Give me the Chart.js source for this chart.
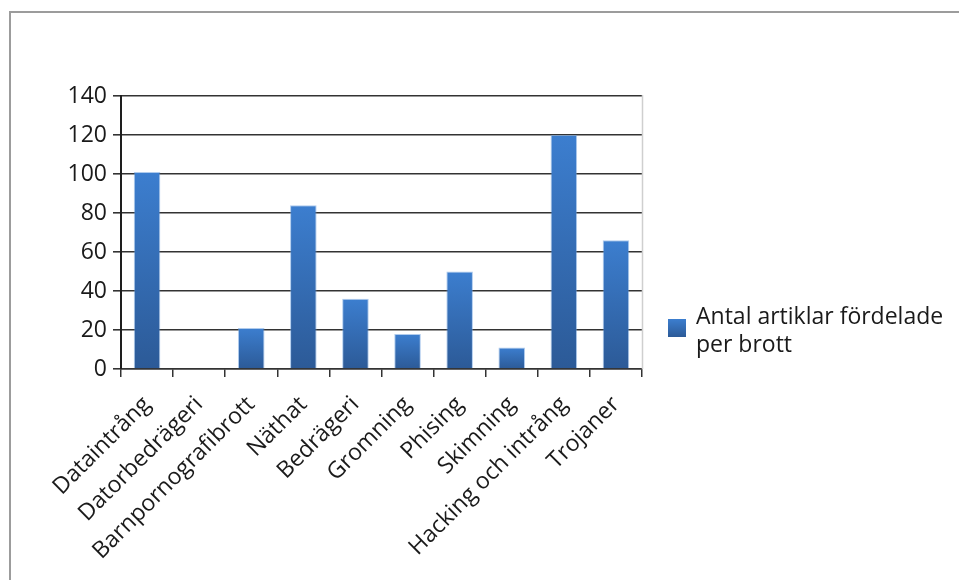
<!DOCTYPE html>
<html>
<head>
<meta charset="utf-8">
<script src="https://cdn.jsdelivr.net/npm/chart.js@4/dist/chart.umd.min.js"></script>
<style>
  html, body { margin: 0; padding: 0; background: #ffffff; }
  #wrap { position: relative; width: 959px; height: 580px; overflow: hidden; }
  #frame { position: absolute; left: 9px; top: 11px; width: 2000px; height: 2000px;
           border-top: 2px solid #9c9c9c; border-left: 2px solid #9c9c9c; pointer-events: none; }
  canvas { position: absolute; left: 0; top: 0; }
</style>
</head>
<body>
<div id="wrap">
  <canvas id="chart" width="959" height="580"></canvas>
  <div id="frame"></div>
</div>
<script>
// Categories (crime types) and number of articles per category
const categories = [
  'Dataintrång', 'Datorbedrägeri', 'Barnpornografibrott', 'Näthat', 'Bedrägeri',
  'Gromning', 'Phising', 'Skimning', 'Hacking och intrång', 'Trojaner'
];
const articleCounts = [101, 0, 21, 84, 36, 18, 50, 11, 120, 66];
const seriesName = 'Antal artiklar fördelade per brott';
const seriesNameLines = ['Antal artiklar fördelade', 'per brott'];

// Value axis ticks
const yMin = 0;
const yMax = 140;
const yStep = 20;

const FONT = "'Open Sans', 'Noto Sans', sans-serif";
const TEXT_COLOR = '#1a1a1a';
const BAR_TOP = '#3c7ecf';
const BAR_BOTTOM = '#2c5a97';

// Vertical gradient per bar, from its top down to the zero line
function barGradient(ctx) {
  const chart = ctx.chart;
  const area = chart.chartArea;
  if (!area) return BAR_TOP;
  const y = chart.scales.y;
  const v = ctx.raw ?? 0;
  const top = y.getPixelForValue(v);
  const base = y.getPixelForValue(0);
  if (Math.abs(base - top) < 1) return BAR_TOP;
  const g = chart.ctx.createLinearGradient(0, top, 0, base);
  g.addColorStop(0, BAR_TOP);
  g.addColorStop(1, BAR_BOTTOM);
  return g;
}

// Light edge on the right side of the plot area
const plotEdge = {
  id: 'plotEdge',
  beforeDatasetsDraw(chart) {
    const { ctx, chartArea } = chart;
    ctx.save();
    ctx.strokeStyle = '#cfcfcf';
    ctx.lineWidth = 1.5;
    ctx.beginPath();
    ctx.moveTo(chartArea.right + 0.5, chartArea.top - 1);
    ctx.lineTo(chartArea.right + 0.5, chartArea.bottom);
    ctx.stroke();
    ctx.restore();
  }
};

// Legend on the right with a wrapped series name
const sideLegend = {
  id: 'sideLegend',
  afterDraw(chart) {
    const { ctx } = chart;
    const ds = chart.data.datasets[0];
    const x = 668, y = 319, box = 18;
    ctx.save();
    const g = ctx.createLinearGradient(0, y, 0, y + box);
    g.addColorStop(0, BAR_TOP);
    g.addColorStop(1, BAR_BOTTOM);
    ctx.fillStyle = g;
    ctx.fillRect(x, y, box, box);
    ctx.fillStyle = TEXT_COLOR;
    ctx.font = '23px ' + FONT;
    ctx.textBaseline = 'alphabetic';
    ctx.textAlign = 'left';
    const lines = ds.legendLines || [ds.label];
    lines.forEach((line, i) => ctx.fillText(line, 696, 324 + i * 28));
    ctx.restore();
  }
};

new Chart(document.getElementById('chart'), {
  type: 'bar',
  data: {
    labels: categories,
    datasets: [{
      label: seriesName,
      legendLines: seriesNameLines,
      data: articleCounts,
      backgroundColor: barGradient,
      borderColor: 'rgba(110,160,222,0.55)',
      borderWidth: 1,
      barPercentage: 0.51,
      categoryPercentage: 1.0
    }]
  },
  options: {
    responsive: false,
    animation: false,
    events: [],
    layout: { padding: { top: 96, right: 317, left: 0, bottom: 0 } },
    plugins: {
      legend: { display: false },
      tooltip: { enabled: false },
      title: { display: false }
    },
    scales: {
      x: {
        offset: true,
        afterFit(scale) { scale.height = 211; },
        grid: {
          offset: true,
          drawOnChartArea: false,
          drawTicks: true,
          tickLength: 8,
          color: '#333333',
          lineWidth: 1.5
        },
        border: { display: true, color: '#333333', width: 1.5 },
        ticks: {
          autoSkip: false,
          minRotation: 45,
          maxRotation: 45,
          padding: 14,
          color: TEXT_COLOR,
          font: { family: FONT, size: 23 }
        }
      },
      y: {
        min: yMin,
        max: yMax,
        afterFit(scale) { scale.width = 121; },
        grid: {
          color: '#333333',
          lineWidth: 1.6,
          drawTicks: true,
          tickLength: 8
        },
        border: { display: true, color: '#1e1e1e', width: 2 },
        ticks: {
          stepSize: yStep,
          padding: 6,
          color: TEXT_COLOR,
          font: { family: FONT, size: 23 }
        }
      }
    }
  },
  plugins: [plotEdge, sideLegend]
});
</script>
</body>
</html>
